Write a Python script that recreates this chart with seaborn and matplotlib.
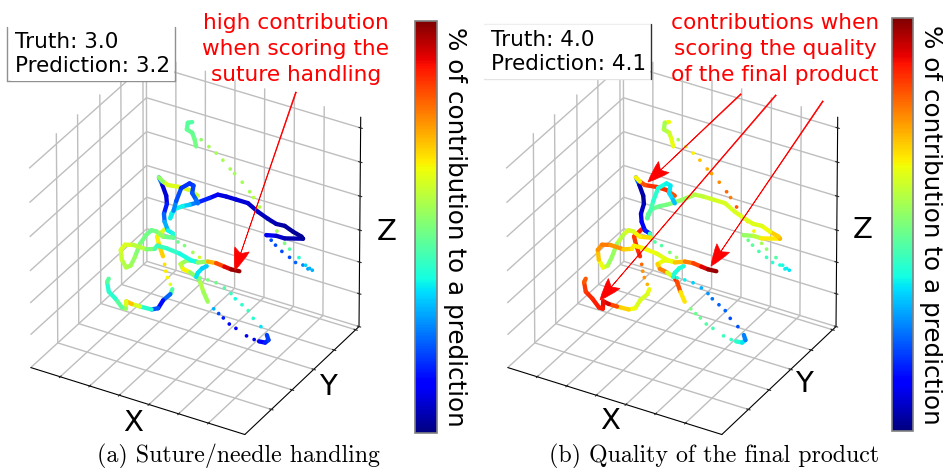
import matplotlib
matplotlib.use("Agg")
import numpy as np
import matplotlib.pyplot as plt
import seaborn as sns
from matplotlib.cm import ScalarMappable
from matplotlib.colors import Normalize
from matplotlib.lines import Line2D
from matplotlib.patches import FancyArrowPatch
from mpl_toolkits.mplot3d.art3d import Line3DCollection

W, H = 943, 468

# trajectory pieces: x, z, contribution in panel a, contribution in panel b
hook_x = [328, 315, 312, 328, 335, 340]
hook_z = [751, 745, 724, 719, 702, 681]
hook_a = [.45, .45, .47, .47, .48, .50]
hook_b = [.72, .55, .55, .58, .62, .65]

far_x = [355, 378, 400, 420, 442, 455, 478, 500, 512, 530, 563, 582, 605, 620, 648, 668, 680, 688]
far_z = [706, 692, 679, 664, 644, 634, 615, 593, 579, 556, 522, 499, 469, 456, 439, 422, 416, 413]
far_a = [.52, .55, .55, .55, .55, .55, .55, .55, .57, .57, .55, .55, .50, .45, .40, .33, .30, .30]
far_b = [.55, .60, .65, .70, .72, .74, .76, .80, .78, .82, .68, .65, .55, .52, .45, .38, .36, .35]

back_x = [675, 660, 638, 620, 597, 578, 565, 552]
back_z = [413, 420, 421, 431, 442, 455, 466, 476]
back_a = [.28, .25, .22, .20, .20, .20, .20, .20]
back_b = [.36, .38, .40, .42, .44, .46, .48, .50]

long_x = [550, 580, 605, 660, 655, 630, 605, 580, 555, 525, 495, 460, 430, 405, 380, 345, 320, 300, 275, 265, 262,
          272, 280, 295, 320, 332, 328, 340, 345]
long_z = [477, 484, 484, 500, 505, 512, 522, 520, 528, 540, 557, 557, 557, 555, 537, 513, 498, 488, 471, 453, 439,
          465, 497, 541, 563, 560, 536, 519, 510]
long_a = [.13, .08, .06, .03, .02, .02, .03, .04, .05, .06, .07, .08, .08, .09, .12, .20, .30, .35, .38, .40, .42,
          .30, .22, .18, .17, .18, .20, .22, .25]
long_b = [.52, .55, .60, .72, .72, .66, .62, .62, .62, .62, .60, .62, .58, .58, .55, .52, .50, .48, .48, .48, .47,
          .45, .42, .38, .37, .36, .35, .33, .30]

arc_x = [345, 320, 290, 255, 240, 228]
arc_z = [533, 543, 543, 538, 544, 553]
arc_a = [.58, .60, .62, .62, .60, .45]
arc_b = [.80, .85, .87, .85, .80, .50]

mid_x = [228, 238, 250, 252, 243, 245, 255, 270, 272, 240, 220, 205, 190, 170, 155, 142, 128, 115, 112, 125, 150,
         190, 215, 222, 250, 290, 325, 345, 375, 400, 425, 445, 470]
mid_z = [553, 534, 504, 480, 447, 423, 400, 395, 383, 376, 386, 385, 367, 332, 288, 257, 247, 267, 296, 316, 323,
         322, 331, 343, 344, 340, 330, 330, 342, 345, 342, 340, 342]
mid_a = [.40, .08, .07, .10, .20, .25, .35, .38, .40, .55, .50, .48, .48, .50, .52, .55, .55, .58, .60, .62, .60,
         .55, .45, .42, .42, .40, .35, .40, .65, .78, .88, .95, 1.0]
mid_b = [.40, .05, .03, .03, .08, .10, .12, .20, .65, .70, .60, .62, .60, .55, .52, .55, .60, .68, .72, .78, .78,
         .72, .66, .66, .65, .63, .62, .65, .75, .80, .88, .95, 1.0]

drop_x = [245, 222, 228, 240]
drop_z = [400, 371, 348, 316]
drop_a = [.60, .62, .68, .70]
drop_b = [.90, .85, .85, .88]

drop_dots_x = [245, 248, 253, 262]
drop_dots_z = [293, 273, 255, 237]
drop_dots_a = [.67, .66, .65, .62]
drop_dots_b = [.80, .75, .75, .72]

low_x = [268, 262, 240, 225, 205, 170, 145, 128, 127, 115, 95, 75, 70, 75]
low_z = [224, 207, 181, 152, 142, 140, 140, 143, 120, 120, 141, 156, 184, 196]
low_a = [.60, .30, .15, .12, .30, .50, .72, .68, .55, .50, .42, .38, .42, .50]
low_b = [.65, .62, .60, .63, .65, .72, .95, .90, .90, .88, .88, .85, .85, .78]

link_x = [262, 285, 305, 330, 350]
link_z = [397, 374, 369, 356, 347]
link_a = [.35, .48, .50, .55, .60]
link_b = [.30, .45, .45, .50, .55]

loop_x = [340, 312, 293, 300, 322, 340, 345, 358, 372]
loop_z = [332, 326, 309, 296, 292, 284, 298, 316, 327]
loop_a = [.50, .52, .55, .60, .70, .35, .35, .35, .30]
loop_b = [.62, .62, .65, .72, .82, .40, .38, .40, .38]

tail_x = [340, 352, 362, 375]
tail_z = [289, 272, 245, 219]
tail_a = [.40, .55, .58, .50]
tail_b = [.85, .88, .78, .55]

tail_dots_x = [393, 408, 422, 440, 460, 492, 515, 530]
tail_dots_z = [203, 193, 184, 171, 164, 151, 147, 146]
tail_dots_a = [.30, .20, .15, .13, .12, .10, .10, .10]
tail_dots_b = [.50, .48, .47, .45, .43, .42, .42, .40]

turn_x = [530, 548, 558, 553]
turn_z = [146, 148, 159, 173]
turn_a = [.10, .15, .17, .20]
turn_b = [.40, .40, .30, .20]

ret_x = [535, 512, 497, 478, 458, 445, 425, 400, 375, 352]
ret_z = [193, 211, 230, 242, 254, 266, 277, 285, 286, 285]
ret_a = [.35, .40, .42, .40, .38, .42, .45, .48, .50, .50]
ret_b = [.20, .20, .22, .22, .24, .27, .30, .33, .36, .38]

DEPTH = 50

THICK = [(hook_x, hook_z, hook_a, hook_b), (long_x, long_z, long_a, long_b), (arc_x, arc_z, arc_a, arc_b),
         (mid_x, mid_z, mid_a, mid_b), (drop_x, drop_z, drop_a, drop_b), (low_x, low_z, low_a, low_b),
         (loop_x, loop_z, loop_a, loop_b), (tail_x, tail_z, tail_a, tail_b), (turn_x, turn_z, turn_a, turn_b)]
DOTS = [(far_x, far_z, far_a, far_b), (back_x, back_z, back_a, back_b),
        (drop_dots_x, drop_dots_z, drop_dots_a, drop_dots_b), (link_x, link_z, link_a, link_b),
        (tail_dots_x, tail_dots_z, tail_dots_a, tail_dots_b), (ret_x, ret_z, ret_a, ret_b)]

sns.set_style("white", {"text.color": "black", "axes.labelcolor": "black"})
plt.rcParams["font.family"] = "DejaVu Sans"
jet = plt.get_cmap("jet")
norm = Normalize(0, 1)
GRID = "#bebebe"


def fx(px):
    return px / W


def fy(py):
    return 1 - py / H


def draw_panel(fig, left, col):
    ax = fig.add_axes([fx(left - 56), -15 / H, fx(490), 1.0], projection="3d")
    ax.patch.set_alpha(0)
    ax.view_init(elev=32, azim=-60)
    ax.set_proj_type("persp", focal_length=5)
    ax.set_box_aspect((1.09, 1.02, 1.09), zoom=0.87)
    ax.set_xlim(15, 660)
    ax.set_ylim(0, 100)
    ax.set_zlim(68, 708)

    zticks = 68 + 640 * np.array([0, .158, .31, .463, .625, .787, .949])
    ax.plot([15, 15], [100, 100], [68, zticks[-1]], color=GRID, lw=1.0)

    for run in THICK:
        xs, zs, vals = run[0], run[1], run[col]
        ys = np.full(len(xs), DEPTH)
        pts = np.column_stack([xs, ys, zs])
        segs = [pts[i:i + 2] for i in range(len(xs) - 1)]
        seg_vals = [(vals[i] + vals[i + 1]) / 2 for i in range(len(xs) - 1)]
        lc = Line3DCollection(segs, colors=jet(norm(seg_vals)), linewidths=3.1, capstyle="round")
        ax.add_collection3d(lc)
    for run in DOTS:
        xs, zs, vals = run[0], run[1], run[col]
        ax.scatter(xs, np.full(len(xs), DEPTH), zs, c=vals, cmap=jet, norm=norm, s=7, linewidths=0, depthshade=False)

    ax.set_xticks(15 + 645 * 0.1385 * np.arange(1, 7))
    ax.set_yticks([23, 41, 60, 78, 97])
    ax.set_zticks(zticks)
    ax.set_xticklabels([])
    ax.set_yticklabels([])
    ax.set_zticklabels([])
    for axis in (ax.xaxis, ax.yaxis, ax.zaxis):
        axis.set_pane_color((1, 1, 1, 1))
        axis.pane.set_edgecolor("none")
        axis._axinfo["grid"].update(color=GRID, linewidth=1.0)
        axis._axinfo["tick"].update(inward_factor=0.1, outward_factor=0.1, color="black")
        axis.line.set_color("black")
    return ax


def add_colorbar(fig, left, top, bottom, width):
    cax = fig.add_axes([fx(left), fy(bottom), fx(width), (bottom - top) / H])
    cb = fig.colorbar(ScalarMappable(norm=norm, cmap=jet), cax=cax)
    cb.set_ticks([])
    cb.outline.set_edgecolor("#808080")
    cb.outline.set_linewidth(1.2)
    fig.text(fx(left + width + 18), fy((top + bottom) / 2), "% of contribution to a prediction",
             rotation=270, ha="center", va="center", fontsize=17.7)


def add_arrow(fig, start, end):
    fig.add_artist(FancyArrowPatch(
        (fx(start[0]), fy(start[1])), (fx(end[0]), fy(end[1])), transform=fig.transFigure,
        arrowstyle="fancy,head_length=6,head_width=4.2,tail_width=0.25", color="red", lw=0.5, mutation_scale=2.6,
        shrinkA=0, shrinkB=0))


def add_edge(fig, x0, y0, x1, y1, color):
    fig.add_artist(Line2D([fx(x0), fx(x1)], [fy(y0), fy(y1)], transform=fig.transFigure, color=color, lw=1.0))


fig = plt.figure(figsize=(W / 100, H / 100), dpi=100)
draw_panel(fig, 0, 2)
draw_panel(fig, 477, 3)
add_colorbar(fig, 415, 21, 433, 22)
add_colorbar(fig, 892, 18, 431, 21)

for name, x, y in [("X", 133, 423), ("Y", 328, 387), ("Z", 387, 232), ("X", 610, 421), ("Y", 804, 384), ("Z", 863, 230)]:
    fig.text(fx(x), fy(y), name, fontsize=21, ha="center", va="center")

fig.text(fx(15), fy(54), "Truth: 3.0\nPrediction: 3.2", fontsize=15.5, va="center", ha="left", linespacing=1.3,
         bbox=dict(facecolor="white", edgecolor="none", boxstyle="square,pad=0.2"))
fig.text(fx(491), fy(52), "Truth: 4.0\nPrediction: 4.1", fontsize=15.5, va="center", ha="left", linespacing=1.3,
         bbox=dict(facecolor="white", edgecolor="none", boxstyle="square,pad=0.2"))
add_edge(fig, 7.5, 27, 7.5, 81, "#909090")
add_edge(fig, 175, 27, 175, 81, "#909090")
add_edge(fig, 7.5, 81, 175, 81, "#909090")
add_edge(fig, 484, 24, 651, 24, "#eeeeee")
add_edge(fig, 484, 79, 651, 79, "#e4e4e4")
add_edge(fig, 651, 24, 651, 79, "#303030")

fig.text(fx(296), fy(49), "high contribution\nwhen scoring the\nsuture handling", color="red", fontsize=15.6,
         ha="center", va="center", linespacing=1.38)
fig.text(fx(775), fy(49), "contributions when\nscoring the quality\nof the final product", color="red", fontsize=15.6,
         ha="center", va="center", linespacing=1.38)

add_arrow(fig, (296, 92), (235, 270))
add_arrow(fig, (741, 94), (648, 182))
add_arrow(fig, (776, 95), (600, 300))
add_arrow(fig, (823, 101), (711, 266))

fig.text(fx(238), fy(456), "(a) Suture/needle handling", family="cmr10", fontsize=17.2, ha="center", va="center")
fig.text(fx(714), fy(456), "(b) Quality of the final product", family="cmr10", fontsize=17.2, ha="center", va="center")

fig.savefig("out.png", dpi=100)
